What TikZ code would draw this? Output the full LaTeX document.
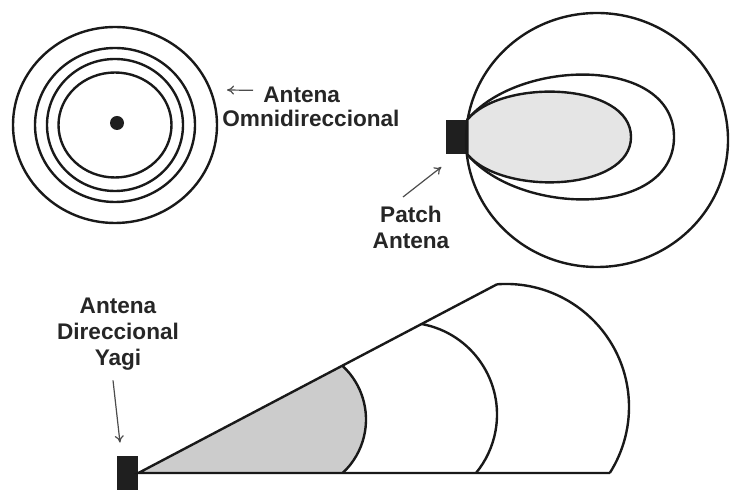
\documentclass[tikz,border=0pt]{standalone}
\usepackage{fontspec}
\setmainfont{Liberation Sans}
\usepackage{tikz}
\usetikzlibrary{arrows.meta,calc}

\begin{document}
\begin{tikzpicture}[
    x=0.5pt, y=0.5pt,
    lbl/.style={font=\bfseries\fontsize{11.3}{12.8}\selectfont, text=black!85, inner sep=0pt, align=center},
    wave/.style={line width=1.2pt, draw=black!90},
    block/.style={rectangle, fill=black!88, inner sep=0pt},
    lblarrow/.style={-{To[length=3.5pt,width=4.5pt]}, line width=0.6pt, black!70},
]
\useasboundingbox (0,0) rectangle (732,-490);

% Omnidireccional
\coordinate (omni) at (115,-125);
\foreach \rx/\ry in {102/98, 80/77, 68/66, 56.5/52.5}
  \draw[wave] (omni) ellipse[x radius=\rx, y radius=\ry];
\fill[black!88] ($(omni)+(2,2)$) circle[radius=7];
\node[lbl, anchor=base west] (omnitop) at (263,-103) {Antena};
\node[lbl, anchor=base west] (omnibot) at (222,-127) {Omnidireccional};
\coordinate (omnihead) at (227,-90);
\draw[lblarrow] ([shift={(-10,5)}]omnitop.west) -- (omnihead);

% Patch
\node[block, minimum width=10.5pt, minimum height=17pt] (patchant) at (456.5,-137) {};
\draw[wave] (597,-140) ellipse[x radius=131, y radius=127];
\draw[wave] (patchant.north east) to[out=50,in=90] (674,-137) to[out=-90,in=-50] (patchant.south east);
\draw[wave, fill=black!10] (patchant.north east) to[out=50,in=90,looseness=0.85] (631,-137)
  to[out=-90,in=-50,looseness=0.85] (patchant.south east) -- cycle;
\node[lbl, anchor=north] (patchlbl) at (411,-206) {Patch\\Antena};
\draw[lblarrow] ([shift={(-8,9)}]patchlbl.north) -- ([shift={(-26,-30)}]patchant.east);

% Yagi
\node[block, minimum width=10.5pt, minimum height=17pt] (yagiant) at (127.5,-473) {};
\coordinate (tip) at (497,-284.3);
\coordinate (bend) at (609.8,-473);
\coordinate (inner) at ($(293,-419.5)+(46.7:73)$);
\fill[black!20] (yagiant.east) -- (inner) arc[start angle=46.7, end angle=-47.2, radius=73] -- cycle;
\draw[wave] (tip) -- (yagiant.east) -- (bend);
\draw[wave] (inner) arc[start angle=46.7, end angle=-47.2, radius=73];
\draw[wave] (405,-414.5) ++(79.3:92) arc[start angle=79.3, end angle=-39.5, radius=92];
\draw[wave] (tip) arc[start angle=94.2, end angle=-32.45, radius=123];
\node[lbl, anchor=north] (yagilbl) at (118,-298) {Antena\\Direccional\\Yagi};
\draw[lblarrow] ([shift={(-5,-10)}]yagilbl.south) -- ([shift={(-7.5,13)}]yagiant.north);
\end{tikzpicture}
\end{document}
